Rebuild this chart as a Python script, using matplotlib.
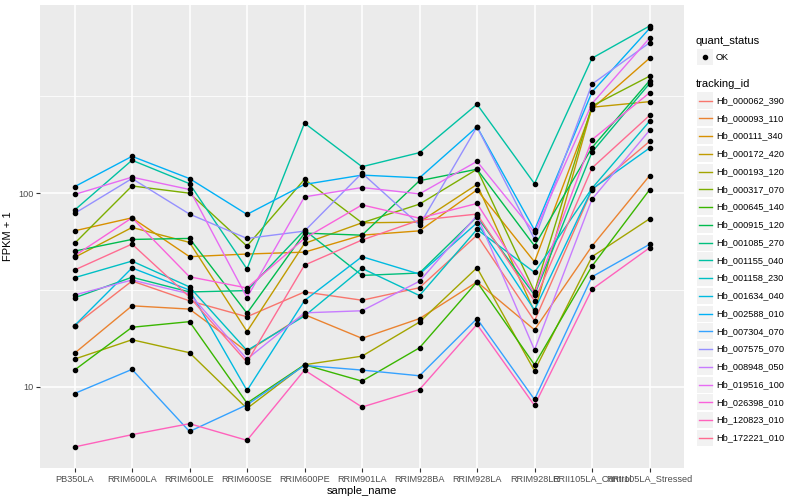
import matplotlib
matplotlib.use('Agg')
import matplotlib.pyplot as plt
import numpy as np
from matplotlib.lines import Line2D
from matplotlib.patches import Rectangle
from matplotlib.ticker import NullFormatter

plt.rcParams['font.family'] = ['Liberation Sans', 'DejaVu Sans']

samples = ['PB350LA', 'RRIM600LA', 'RRIM600LE', 'RRIM600SE', 'RRIM600PE',
           'RRIM901LA', 'RRIM928BA', 'RRIM928LA', 'RRIM928LE',
           'RRII105LA_Control', 'RRII105LA_Stressed']

tracking_ids = ['Hb_000062_390', 'Hb_000093_110', 'Hb_000111_340', 'Hb_000172_420',
                'Hb_000193_120', 'Hb_000317_070', 'Hb_000645_140', 'Hb_000915_120',
                'Hb_001085_270', 'Hb_001155_040', 'Hb_001158_230', 'Hb_001634_040',
                'Hb_002588_010', 'Hb_007304_070', 'Hb_007575_070', 'Hb_008948_050',
                'Hb_019516_100', 'Hb_026398_010', 'Hb_120823_010', 'Hb_172221_010']

# FPKM + 1, one list per gene, in the order of samples
hb_000062_390 = [20.7, 35.2, 27.8, 23.0, 30.9, 28.0, 32.5, 60.7, 21.9, 104, 185]
hb_000093_110 = [14.9, 26.2, 25.2, 15.2, 23.6, 17.8, 22.5, 34.8, 19.7, 53.3, 123]
hb_000111_340 = [63.9, 74.6, 47.0, 48.5, 49.6, 60.7, 63.9, 104, 44.2, 273, 498]
hb_000172_420 = [46.6, 66.5, 55.7, 19.3, 55.0, 70.3, 70.9, 111, 24.4, 278, 297]
hb_000193_120 = [13.9, 17.5, 15.0, 7.73, 13.0, 14.4, 21.6, 41.2, 12.1, 47.0, 73.7]
hb_000317_070 = [55.0, 109, 100, 53.3, 118, 70.3, 87.8, 133, 31.0, 282, 402]
hb_000645_140 = [12.2, 20.3, 21.7, 8.24, 13.0, 10.7, 15.9, 34.8, 13.0, 42.0, 104]
hb_000915_120 = [50.2, 57.7, 58.4, 24.0, 62.2, 60.7, 116, 133, 53.5, 172, 381]
hb_001085_270 = [28.8, 36.8, 30.9, 31.4, 64.5, 37.6, 38.7, 75.5, 29.8, 163, 368]
hb_001155_040 = [81.7, 148, 112, 40.6, 230, 137, 162, 288, 112, 498, 730]
hb_001158_230 = [36.6, 44.6, 32.8, 15.4, 23.2, 40.9, 29.6, 65.0, 39.0, 106, 235]
hb_001634_040 = [20.7, 41.1, 31.6, 9.57, 27.9, 47.0, 38.2, 70.3, 24.9, 105, 171]
hb_002588_010 = [108, 155, 119, 77.7, 111, 124, 120, 220, 64.5, 333, 709]
hb_007304_070 = [9.23, 12.3, 5.88, 8.07, 12.9, 12.2, 11.4, 22.5, 8.6, 37.0, 54.4]
hb_007575_070 = [78.6, 119, 78.0, 58.4, 63.7, 127, 68.4, 220, 57.9, 366, 598]
hb_008948_050 = [29.8, 35.6, 30.2, 13.9, 24.1, 24.7, 35.1, 76.7, 15.5, 93.1, 211]
hb_019516_100 = [98.5, 121, 104.5, 28.9, 95.7, 107, 99.2, 146, 62.7, 290, 632]
hb_026398_010 = [47.5, 74.6, 37.0, 32.4, 58.4, 87.0, 74.3, 88.5, 30.3, 189, 330]
hb_120823_010 = [4.89, 5.66, 6.45, 5.29, 12.2, 7.86, 9.68, 21.0, 8.01, 31.9, 52.2]
hb_172221_010 = [40.1, 54.6, 29.1, 13.4, 42.5, 57.3, 72.6, 78.0, 27.8, 135, 252]

series = [hb_000062_390, hb_000093_110, hb_000111_340, hb_000172_420,
          hb_000193_120, hb_000317_070, hb_000645_140, hb_000915_120,
          hb_001085_270, hb_001155_040, hb_001158_230, hb_001634_040,
          hb_002588_010, hb_007304_070, hb_007575_070, hb_008948_050,
          hb_019516_100, hb_026398_010, hb_120823_010, hb_172221_010]

# ggplot2 default hue palette for 20 levels
colors = ['#F8766D', '#EA8331', '#D89000', '#C09B00', '#A3A500', '#7CAE00',
          '#39B600', '#00BB4E', '#00BF7D', '#00C1A3', '#00BFC4', '#00BAE0',
          '#00B0F6', '#35A2FF', '#9590FF', '#C77CFF', '#E76BF3', '#FA62DB',
          '#FF62BC', '#FF6C91']

W, H = 800, 500
fig = plt.figure(figsize=(W / 100, H / 100), dpi=100)
ax = fig.add_axes([40 / W, 1 - 468 / H, (684 - 40) / W, (468 - 5) / H])

x = np.arange(len(samples))
for vals, col in zip(series, colors):
    ax.plot(x, vals, color=col, lw=1.0, zorder=2)
for vals in series:
    ax.plot(x, vals, linestyle='none', marker='o', ms=3.0, color='black', zorder=3)

ax.set_yscale('log')
ax.set_yticks([10, 100])
ax.set_yticklabels(['10', '100'])
ax.set_yticks([10 ** 1.5, 10 ** 2.5], minor=True)
ax.yaxis.set_minor_formatter(NullFormatter())
ax.set_xticks(x)
ax.set_xticklabels(samples)

# ggplot-like 5% expansion in log space, applied after the ticks
allv = np.concatenate([np.array(v, dtype=float) for v in series])
lo, hi = np.log10(allv.min()), np.log10(allv.max())
pad = 0.05 * (hi - lo)
ax.set_ylim(10 ** (lo - pad), 10 ** (hi + pad))
ax.set_xlim(-0.6, len(samples) - 0.4)

ax.set_facecolor('#EBEBEB')
ax.grid(True, which='major', color='white', lw=1.1)
ax.grid(True, which='minor', axis='y', color='white', lw=0.55)
ax.set_axisbelow(True)
for s in ax.spines.values():
    s.set_visible(False)
ax.tick_params(which='major', length=2.7, width=0.8, color='#333333',
               labelsize=6.6, labelcolor='#4D4D4D', pad=2)
ax.tick_params(which='minor', length=0)
ax.set_xlabel('sample_name', fontsize=8, labelpad=2)
ax.set_ylabel('FPKM + 1', fontsize=8, labelpad=4)


def fx(px):
    return px / W


def fy(py):
    return 1 - py / H


# legend: quant_status
fig.text(fx(696), fy(41), 'quant_status', fontsize=8, va='center', ha='left')
fig.add_artist(Rectangle((fx(697), fy(65)), 16 / W, 16 / H,
                         transform=fig.transFigure, facecolor='#F2F2F2', edgecolor='none'))
fig.add_artist(Line2D([fx(705)], [fy(57)], transform=fig.transFigure,
                      marker='o', ms=3.0, color='black', linestyle='none'))
fig.text(fx(716), fy(57), 'OK', fontsize=6.6, va='center', ha='left')

# legend: tracking_id
fig.text(fx(696), fy(84), 'tracking_id', fontsize=8, va='center', ha='left')
step = 17.76
for i, (name, col) in enumerate(zip(tracking_ids, colors)):
    cy = 100.5 + i * step
    fig.add_artist(Rectangle((fx(697), fy(cy + 8)), 16 / W, 16 / H,
                             transform=fig.transFigure, facecolor='#F2F2F2', edgecolor='none'))
    fig.add_artist(Line2D([fx(698.5), fx(711.5)], [fy(cy), fy(cy)],
                          transform=fig.transFigure, color=col, lw=1.0))
    fig.text(fx(716), fy(cy), name, fontsize=6.6, va='center', ha='left')

fig.savefig('out.png', dpi=100)
